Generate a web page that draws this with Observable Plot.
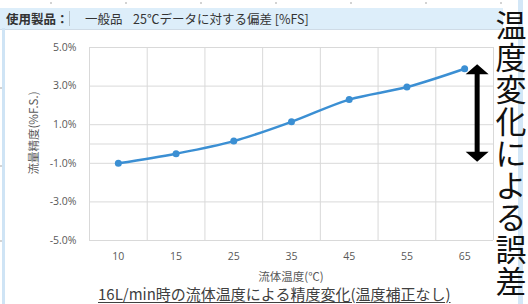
<!DOCTYPE html>
<html>
<head>
<meta charset="utf-8">
<script src="https://cdn.jsdelivr.net/npm/d3@7"></script>
<script src="https://cdn.jsdelivr.net/npm/@observablehq/plot@0.6"></script>
<style>
  html, body { margin: 0; padding: 0; background: #fff; }
  #wrap { position: relative; width: 528px; height: 304px; overflow: hidden; background: #fff;
          font-family: "Noto Sans CJK JP", "Noto Sans", sans-serif; }
  .abs { position: absolute; white-space: nowrap; }
  #header { left: 0; top: 8px; width: 503px; height: 21px; background: #ddeefa; border-bottom: 1px solid #cfdbe6; }
  #box { left: 4px; top: 30px; width: 489px; height: 280px; border-left: 1px solid #e3e3e3; }
  #lstrip { left: 2px; top: 28px; width: 3px; height: 276px; background: #cfe4f5; }
  #rstrip { left: 518px; top: 0; width: 5px; height: 304px; background: #d3e7f7; }
  #big { left: 495px; top: 8px; width: 32px; white-space: normal; word-break: break-all; text-align: center;
         font-size: 31px; line-height: 32px; color: #111; font-weight: 400; }
  .dot { width: 2px; height: 2px; background: #c4c4c4; border-radius: 1px; }
</style>
</head>
<body>
<div id="wrap">
  <div id="header" class="abs"></div>
  <div id="box" class="abs"></div>
  <div id="lstrip" class="abs"></div>
  <div id="rstrip" class="abs"></div>
  <div class="abs" style="left:6px;top:9px;font-size:12.5px;line-height:19px;color:#333;font-weight:700;">使用製品：</div>
  <div class="abs" style="left:69px;top:11px;width:1px;height:15px;background:#b8c4cc;"></div>
  <div class="abs" style="left:85px;top:9px;font-size:12.5px;line-height:19px;color:#333;">一般品</div>
  <div class="abs" style="left:133px;top:9px;font-size:12.5px;line-height:19px;color:#333;">25℃データに対する偏差 [%FS]</div>
  <div id="chart" class="abs" style="left:0;top:30px;"></div>
  <div class="abs" style="left:33px;top:133px;font-size:11.5px;line-height:14px;color:#595959;transform:translate(-50%,-50%) rotate(-90deg);">流量精度(%F.S.)</div>
  <div class="abs" style="left:291px;top:276px;font-size:11.5px;line-height:13px;color:#595959;transform:translate(-50%,-50%);">流体温度(℃)</div>
  <div class="abs" style="left:98px;top:285px;font-size:15px;line-height:17px;color:#404040;text-decoration:underline;text-underline-offset:2px;">16L/min時の流体温度による精度変化(温度補正なし)</div>
  <div id="big" class="abs">温度変化による誤差</div>
</div>
<script>
// ---- data ----
const categories = ["10", "15", "25", "35", "45", "55", "65"];        // 流体温度 (℃)
const deviation  = [-1.0, -0.5, 0.15, 1.15, 2.3, 2.95, 3.9];           // 流量精度 (%F.S.)
const yTicks     = [-5, -3, -1, 1, 3, 5];
const yGrid      = [-5, -3, -1, 0, 1, 3, 5];

const data = categories.map((c, i) => ({i, c, v: deviation[i]}));
const bounds = d3.range(categories.length + 1).map(i => i - 0.5);
const blue = "#3b8fd3";

const chart = Plot.plot({
  width: 500,
  height: 250,
  marginLeft: 89,
  marginRight: 7,
  marginTop: 17,
  marginBottom: 40,
  style: {fontFamily: "'Open Sans', 'Noto Sans', sans-serif", fontSize: "10.5px", color: "#595959", background: "transparent", overflow: "visible"},
  x: {domain: [-0.5, categories.length - 0.5]},
  y: {domain: [-5, 5]},
  marks: [
    Plot.ruleY(yGrid, {stroke: "#d9d9d9", strokeWidth: 1}),
    Plot.ruleX(bounds, {stroke: "#d9d9d9", strokeWidth: 1}),
    Plot.axisX(d3.range(categories.length), {tickSize: 0, tickPadding: 12, tickFormat: i => categories[i], label: null}),
    Plot.axisY(yTicks, {tickSize: 0, tickPadding: 13, tickFormat: d => d.toFixed(1) + "%", label: null}),
    Plot.line(data, {x: "i", y: "v", curve: "catmull-rom", stroke: blue, strokeWidth: 2.5}),
    Plot.dot(data, {x: "i", y: "v", r: 3.5, fill: blue})
  ]
});
document.getElementById("chart").appendChild(chart);

// double-headed arrow spanning the error range, positioned from the scales
const xs = chart.scale("x"), ys = chart.scale("y");
const ax = xs.apply(categories.length - 1) + 13;
const yTop = ys.apply(d3.max(deviation)) - 4;
const yBot = ys.apply(d3.min(deviation)) - 1;
const hw = 11.5, hh = 10, sw = 2.5;
const svg = d3.select(chart);
svg.append("path")
  .attr("fill", "#000")
  .attr("d", `M${ax},${yTop} L${ax + hw},${yTop + hh} L${ax + sw},${yTop + hh} L${ax + sw},${yBot - hh} L${ax + hw},${yBot - hh} L${ax},${yBot} L${ax - hw},${yBot - hh} L${ax - sw},${yBot - hh} L${ax - sw},${yTop + hh} L${ax - hw},${yTop + hh} Z`);

// faint ruler dots along the top and left edges
const wrap = document.getElementById("wrap");
[50, 125, 200, 275, 350, 425, 500].forEach(x => {
  const d = document.createElement("div"); d.className = "abs dot"; d.style.left = x + "px"; d.style.top = "2px"; wrap.appendChild(d);
});
[87, 165, 240].forEach(y => {
  const d = document.createElement("div"); d.className = "abs dot"; d.style.left = "0px"; d.style.top = y + "px"; wrap.appendChild(d);
});
</script>
</body>
</html>
